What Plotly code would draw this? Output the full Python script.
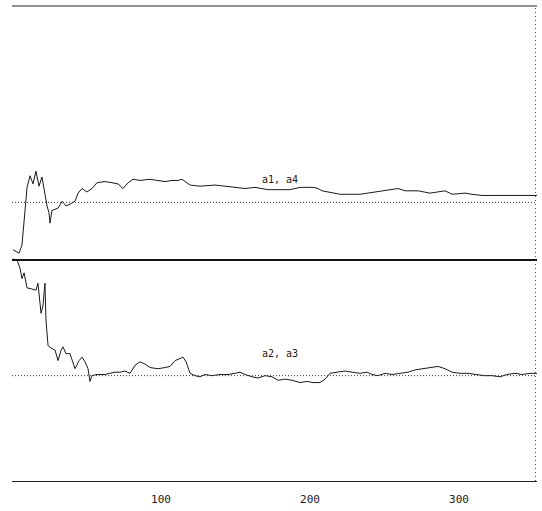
import plotly.graph_objects as go

# Upper series (a1, a4)
upper_x = [0.7, 4.7, 6.7, 8.1, 8.7, 10.1, 12.1, 14.1, 16.1, 18.1, 20.1, 21.5, 23.5, 24.8, 25.5,
           26.8, 28.9, 30.9, 33.6, 36.2, 38.3, 42.3, 44.3, 47.0, 50.3, 53.7, 57.0, 62.4, 67.1, 71.1,
           74.5, 77.9, 81.2, 85.9, 92.6, 99.3, 102.7, 107.4, 111.4, 114.1, 119.5, 126.2, 136.2, 143.0, 149.7,
           156.4, 163.1, 171.8, 186.6, 193.3, 202.0, 205.4, 208.1, 220.1, 233.6, 243.6, 252.3, 259.1, 263.8, 272.5,
           280.5, 285.2, 290.6, 295.3, 304.0, 308.7, 315.4, 324.2, 337.6, 352.3]
upper_y = [0.09, 0.06, 0.13, 0.36, 0.47, 0.63, 0.73, 0.66, 0.77, 0.64, 0.72, 0.60, 0.47, 0.41, 0.32,
           0.43, 0.44, 0.45, 0.51, 0.47, 0.48, 0.51, 0.58, 0.62, 0.59, 0.62, 0.67, 0.68, 0.67, 0.66,
           0.62, 0.67, 0.70, 0.69, 0.70, 0.69, 0.68, 0.69, 0.69, 0.70, 0.65, 0.64, 0.65, 0.64, 0.63,
           0.62, 0.63, 0.61, 0.61, 0.63, 0.63, 0.62, 0.60, 0.57, 0.57, 0.59, 0.61, 0.62, 0.60, 0.60,
           0.58, 0.59, 0.60, 0.57, 0.58, 0.57, 0.56, 0.56, 0.56, 0.56]

# Lower series (a2, a3)
lower_x = [0.7, 3.4, 5.4, 6.7, 8.1, 10.1, 13.4, 16.1, 17.4, 18.8, 19.5, 20.8, 22.1, 22.8, 24.2,
           26.2, 28.9, 30.9, 32.9, 34.2, 36.2, 38.9, 40.9, 42.3, 45.0, 47.0, 49.0, 51.0, 52.3, 53.7,
           57.0, 62.4, 65.8, 69.1, 72.5, 75.8, 79.2, 82.6, 85.9, 89.3, 92.6, 98.0, 102.7, 106.0, 109.4,
           112.8, 114.8, 116.8, 119.5, 122.8, 126.2, 129.5, 134.2, 139.6, 145.0, 149.7, 153.0, 156.4, 161.1, 165.1,
           169.8, 174.5, 178.5, 183.2, 187.9, 193.3, 198.0, 202.0, 206.7, 210.1, 213.4, 218.1, 223.5, 228.2, 233.6,
           238.3, 241.6, 245.6, 250.3, 255.0, 260.4, 265.8, 270.5, 275.2, 280.5, 285.9, 290.6, 295.3, 300.7, 306.0,
           311.4, 316.8, 322.1, 327.5, 332.2, 337.6, 342.3, 347.7, 352.3]
lower_y = [0.01, 0.0, -0.07, -0.16, -0.11, -0.24, -0.25, -0.26, -0.20, -0.35, -0.46, -0.39, -0.20, -0.52, -0.74,
           -0.76, -0.78, -0.87, -0.78, -0.75, -0.81, -0.81, -0.88, -0.94, -0.87, -0.84, -0.88, -0.94, -1.05, -1.00,
           -0.99, -0.99, -0.98, -0.97, -0.97, -0.96, -0.98, -0.91, -0.88, -0.90, -0.93, -0.94, -0.93, -0.92, -0.87,
           -0.85, -0.84, -0.88, -0.98, -1.00, -1.01, -0.99, -1.00, -0.99, -0.99, -0.98, -0.97, -0.99, -1.01, -1.02,
           -1.00, -1.01, -1.04, -1.03, -1.04, -1.06, -1.05, -1.06, -1.06, -1.03, -0.98, -0.97, -0.96, -0.97, -0.98,
           -0.97, -0.99, -1.00, -0.98, -0.99, -0.98, -0.97, -0.95, -0.94, -0.93, -0.92, -0.94, -0.97, -0.98, -0.98,
           -0.99, -1.00, -1.00, -1.01, -0.99, -0.98, -0.99, -0.98, -0.98]

ref_levels = [0.5, -1.0]
series_labels = ["a1, a4", "a2, a3"]
label_pos_x = [180, 180]
label_pos_y = [0.70, -0.81]
tick_vals = [100, 200, 300]
tick_text = ["100", "200", "300"]

fig = go.Figure()
for xs, ys, name in [(upper_x, upper_y, series_labels[0]), (lower_x, lower_y, series_labels[1])]:
    fig.add_trace(go.Scatter(x=xs, y=ys, mode="lines", name=name,
                             line=dict(color="#1a1a1a", width=1), showlegend=False))

for lv in ref_levels:
    fig.add_hline(y=lv, line=dict(color="#333333", width=1, dash="1px,2px"))

for txt, ax, ay in zip(series_labels, label_pos_x, label_pos_y):
    fig.add_annotation(x=ax, y=ay, text=txt, showarrow=False,
                       font=dict(family="DejaVu Sans Mono", size=10, color="#1a1a1a"))

# frame: top solid, right dotted
fig.add_shape(type="line", xref="paper", yref="paper", x0=0, x1=1, y0=1, y1=1,
              line=dict(color="#222222", width=1))
fig.add_shape(type="line", xref="paper", yref="paper", x0=0.997, x1=0.997, y0=0, y1=1,
              line=dict(color="#444444", width=1, dash="1px,3px"))

fig.update_layout(
    width=542, height=511,
    margin=dict(l=12, r=5, t=6, b=28),
    paper_bgcolor="white", plot_bgcolor="white",
    font=dict(family="DejaVu Sans Mono", size=11, color="#1a1a1a"),
    xaxis=dict(range=[0, 352.3], tickvals=tick_vals, ticktext=tick_text, ticks="",
               ticklabelstandoff=8,
               showgrid=False, zeroline=False, showline=True, linecolor="#222222", linewidth=1),
    yaxis=dict(range=[-1.912, 2.200], showticklabels=False, ticks="", showgrid=False,
               zeroline=True, zerolinecolor="#111111", zerolinewidth=2, showline=False),
)

fig.write_html("out.html", config={"displayModeBar": False},
               post_script="document.body.style.margin='0';")
